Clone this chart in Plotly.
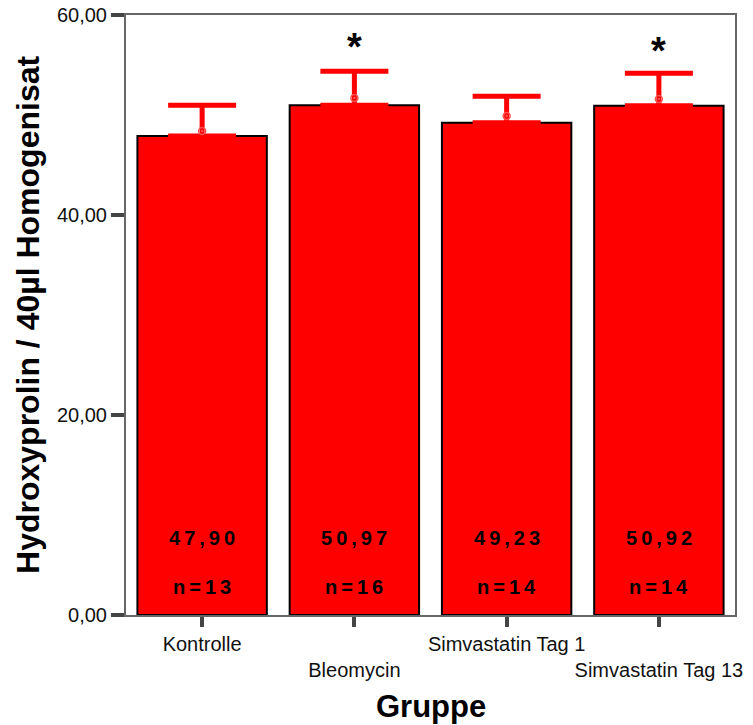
import plotly.graph_objects as go

groups = ["Kontrolle", "Bleomycin", "Simvastatin Tag 1", "Simvastatin Tag 13"]
tick_text = ["Kontrolle", "<br>Bleomycin", "Simvastatin Tag 1", "<br>Simvastatin Tag 13"]
means = [47.90, 50.97, 49.23, 50.92]
err_plus = [3.07, 3.40, 2.64, 3.25]
point_marks = [48.4, 51.7, 49.9, 51.6]
n_values = [13, 16, 14, 14]
sig_groups = ["Bleomycin", "Simvastatin Tag 13"]
sig_y = [56.8, 56.4]
y_ticks = [0, 20, 40, 60]
y_tick_text = ["0,00", "20,00", "40,00", "60,00"]

FONT = "Liberation Sans, Arial, sans-serif"
THIN = "\u2009"

def spaced(s):
    return THIN.join(list(s))

fig = go.Figure()
fig.add_trace(go.Bar(
    x=groups, y=means,
    marker=dict(color="#ff0000", line=dict(color="#000000", width=2)),
    error_y=dict(type="data", symmetric=False, array=err_plus,
                 arrayminus=[0] * len(means), color="#ff0000",
                 thickness=5, width=34),
    showlegend=False, hoverinfo="skip",
))
fig.add_trace(go.Scatter(
    x=groups, y=point_marks, mode="markers",
    marker=dict(symbol="circle-open-dot", size=7, color="#ff5050",
                line=dict(width=1.5, color="#ff5050")),
    showlegend=False, hoverinfo="skip",
))

annotations = []
for g, m, n in zip(groups, means, n_values):
    annotations.append(dict(x=g, y=7.7, xref="x", yref="y",
                            text="<b>" + spaced(f"{m:.2f}".replace(".", ",")) + "</b>",
                            showarrow=False, font=dict(family=FONT, size=20, color="#000")))
    annotations.append(dict(x=g, y=2.8, xref="x", yref="y",
                            text="<b>" + spaced(f"n={n}") + "</b>",
                            showarrow=False, font=dict(family=FONT, size=20, color="#000")))
for g, yy in zip(sig_groups, sig_y):
    annotations.append(dict(x=g, y=yy, xref="x", yref="y", text="<b>*</b>",
                            showarrow=False, font=dict(family=FONT, size=38, color="#000")))
annotations.append(dict(x=0.5, y=-0.153, xref="paper", yref="paper", text="<b>Gruppe</b>",
                        showarrow=False, xanchor="center", yanchor="middle",
                        font=dict(family=FONT, size=31, color="#000")))
annotations.append(dict(x=-0.161, y=0.5, xref="paper", yref="paper",
                        text="<b>Hydroxyprolin / 40µl Homogenisat</b>", textangle=-90,
                        showarrow=False, xanchor="center", yanchor="middle",
                        font=dict(family=FONT, size=32, color="#000")))

fig.update_layout(
    width=753, height=725,
    margin=dict(l=126, r=18, t=15, b=110),
    paper_bgcolor="white", plot_bgcolor="white",
    bargap=0.15,
    font=dict(family=FONT, color="#111"),
    annotations=annotations,
    xaxis=dict(
        type="category", range=[-0.5, 3.5], automargin=False, tickangle=0,
        tickmode="array", tickvals=groups, ticktext=tick_text,
        ticks="outside", ticklen=10, tickwidth=4, tickcolor="#444",
        tickfont=dict(family=FONT, size=20, color="#111"),
        showline=True, linecolor="#666", linewidth=2, mirror=True,
        showgrid=False, zeroline=False,
    ),
    yaxis=dict(
        range=[0, 60], automargin=False,
        tickmode="array", tickvals=y_ticks, ticktext=y_tick_text,
        ticks="outside", ticklen=13, tickwidth=4, tickcolor="#444",
        tickfont=dict(family=FONT, size=20, color="#111"),
        showline=True, linecolor="#666", linewidth=2, mirror=True,
        showgrid=False, zeroline=False,
    ),
)

fig.write_html("out.html")
